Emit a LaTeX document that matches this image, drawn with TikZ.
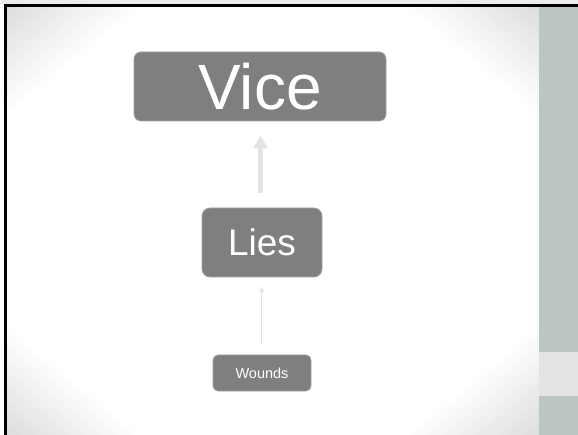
\documentclass[tikz,border=0pt]{standalone}
\usepackage{fontspec}
\setmainfont{Liberation Sans}
\usetikzlibrary{arrows.meta}
\definecolor{boxfill}{HTML}{7F7F7F}
\definecolor{boxedge}{HTML}{A3A3A3}
\definecolor{arrowgray}{HTML}{E4E4E4}
\definecolor{panelgray}{HTML}{BBC5C1}
\definecolor{bandgray}{HTML}{E3E5E4}
\definecolor{topstrip}{HTML}{ECECEC}
\tikzset{
  tbox/.style={draw=boxedge, line width=0.8pt, fill=boxfill, text=white, inner sep=0pt, align=center},
  bigarrow/.style={draw=arrowgray, line width=5pt, -{Triangle[width=14pt,length=13pt]}},
  thinarrow/.style={draw=arrowgray, line width=1.5pt, -{Triangle[width=5pt,length=6pt]}}
}
\begin{document}
\begin{tikzpicture}[x=1pt,y=-1pt]
\useasboundingbox (0,0) rectangle (578,435);
% background
\fill[white] (0,0) rectangle (578,435);
\fill[topstrip] (0,0) rectangle (578,4);
\begin{scope}
  \clip (7,7) rectangle (539,435);
  \fill[black!13] (7,7) rectangle (539,435);
  \foreach \i in {25,24,...,0}{
    \pgfmathsetmacro{\ss}{1.5+\i*0.02}
    \pgfmathsetmacro{\pp}{13*(\ss-1.5)/0.5}
    \fill[black!\pp] ({273-\ss*266},221) -- (273,{221-\ss*214}) -- ({273+\ss*266},221) -- (273,{221+\ss*214}) -- cycle;
  }
\end{scope}
% right panel
\fill[panelgray] (539,7) rectangle (578,435);
\fill[bandgray] (539,352) rectangle (578,396);
% border
\draw[black, line width=2.6pt] (4,5.5) -- (578,5.5);
\draw[black, line width=2.6pt] (5.5,4) -- (5.5,435);
% nodes
\node[tbox, rounded corners=7pt, minimum width=252pt, minimum height=69pt] (vice) at (260,86.5) {\fontsize{64}{64}\selectfont Vice};
\node[tbox, rounded corners=8pt, minimum width=120pt, minimum height=69pt] (lies) at (262,242.5) {\fontsize{37}{37}\selectfont Lies};
\node[tbox, rounded corners=5pt, minimum width=98pt, minimum height=36pt] (wounds) at (262,373) {\fontsize{14.5}{14.5}\selectfont Wounds};
% connectors
\draw[bigarrow, shorten <=15pt, shorten >=14pt] (lies.north -| 260.5,0) -- (vice.south -| 260.5,0);
\draw[thinarrow, shorten <=10pt, shorten >=9pt] (wounds.north -| 261.5,0) -- (lies.south -| 261.5,0);
\end{tikzpicture}
\end{document}
